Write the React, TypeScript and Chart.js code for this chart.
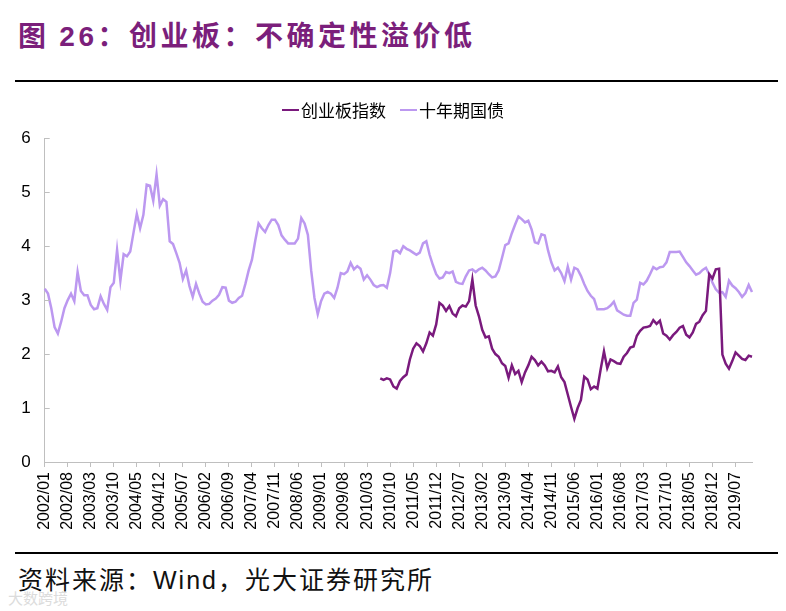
import React, { useEffect, useRef } from "react";
import { Chart, registerables } from "chart.js";

Chart.register(...registerables);

// ---- data (monthly, 2002/01 – 2019/12) ----
const startYear = 2002;
const labelStep = 7;

const bondYield: number[] = [
  3.21, 3.12, 2.85, 2.50, 2.38, 2.60, 2.85, 3.00, 3.12, 2.98, 3.52, 3.17,
  3.09, 3.09, 2.91, 2.83, 2.85, 3.07, 2.93, 2.82, 3.24, 3.32, 3.93, 3.36,
  3.85, 3.81, 3.90, 4.25, 4.60, 4.33, 4.58, 5.14, 5.12, 4.84, 5.33, 4.75,
  4.87, 4.82, 4.09, 4.04, 3.87, 3.69, 3.39, 3.55, 3.26, 3.06, 3.30, 3.12,
  2.97, 2.92, 2.93, 2.99, 3.03, 3.10, 3.24, 3.23, 2.99, 2.95, 2.97, 3.04,
  3.08, 3.30, 3.55, 3.75, 4.10, 4.42, 4.33, 4.26, 4.39, 4.49, 4.49, 4.39,
  4.20, 4.12, 4.05, 4.05,
  4.05, 4.14, 4.52, 4.42, 4.21, 3.55, 3.04, 2.74, 2.98, 3.12, 3.15, 3.12,
  3.04, 3.23, 3.50, 3.48, 3.53, 3.69, 3.57, 3.63, 3.58, 3.38, 3.46, 3.38,
  3.28, 3.24, 3.27, 3.28, 3.23, 3.50, 3.90, 3.92, 3.87, 4.00, 3.95, 3.92,
  3.88, 3.84, 3.88, 4.05, 4.09, 3.84, 3.65, 3.48, 3.40, 3.42, 3.52, 3.50,
  3.53, 3.34, 3.31, 3.30, 3.44, 3.55, 3.57, 3.52, 3.57, 3.60, 3.55, 3.48,
  3.42, 3.44, 3.55,
  3.78, 4.02, 4.05, 4.24, 4.40, 4.55, 4.50, 4.44, 4.47, 4.31,
  4.07, 4.05, 4.22, 4.20, 3.92, 3.70, 3.55, 3.60, 3.50, 3.35,
  3.62, 3.38, 3.60, 3.57, 3.45, 3.30, 3.17, 3.08, 3.02, 2.83,
  2.83, 2.83, 2.85, 2.90, 2.97, 2.81, 2.77, 2.73, 2.71, 2.71,
  2.95, 3.01, 3.32, 3.29, 3.36, 3.48, 3.61, 3.57, 3.61, 3.62,
  3.70, 3.89, 3.89, 3.89, 3.90, 3.80, 3.70, 3.63, 3.55, 3.47,
  3.50, 3.56, 3.60, 3.48, 3.32, 3.20, 3.14, 3.15, 3.06, 3.36,
  3.27, 3.22, 3.15, 3.06, 3.13, 3.28, 3.15,
];

// 创业板指数 series begins at month index 102
const gemStartIndex = 102;
const gemValues: number[] = [
  1.55, 1.52, 1.55, 1.53, 1.40, 1.36, 1.50, 1.57, 1.62, 1.90,
  2.10, 2.20, 2.15, 2.05, 2.20, 2.40, 2.34, 2.55, 2.95, 2.90,
  2.80, 2.89, 2.75, 2.70, 2.85, 2.90, 2.88, 2.98, 3.38, 2.90,
  2.70, 2.45, 2.31, 2.33, 2.10, 2.00, 1.95,
  1.83, 1.78, 1.56, 1.79, 1.63, 1.69, 1.48, 1.66, 1.79, 1.95,
  1.89, 1.79, 1.86, 1.79, 1.68, 1.69, 1.66, 1.77, 1.57, 1.48,
  1.25, 1.02, 0.80, 1.00, 1.15, 1.58, 1.53, 1.35, 1.40, 1.36,
  1.72, 2.05, 1.74, 1.90, 1.87, 1.83, 1.82, 1.95, 2.02, 2.12,
  2.14, 2.34, 2.43, 2.49, 2.50, 2.52, 2.63, 2.56, 2.62, 2.38,
  2.34, 2.27, 2.35, 2.41, 2.49, 2.52, 2.36, 2.31, 2.40, 2.56,
  2.60, 2.72, 2.80, 3.48, 3.40, 3.57, 3.58, 1.99, 1.82, 1.73,
  1.87, 2.03, 1.97, 1.91, 1.89, 1.97, 1.95,
];

const yTicks = [0, 1, 2, 3, 4, 5, 6];

const seriesNames = ["创业板指数", "十年期国债"];
const colors = ["#7A1A7D", "#BC98F0"];

const categories: string[] = bondYield.map((_, i) => {
  const y = startYear + Math.floor(i / 12);
  const m = (i % 12) + 1;
  return `${y}/${m < 10 ? "0" + m : m}`;
});

const gemSeries: (number | null)[] = categories.map((_, i) =>
  i >= gemStartIndex ? gemValues[i - gemStartIndex] ?? null : null
);

const innerTicks = {
  id: "innerTicks",
  afterDraw(chart: any) {
    const { ctx, chartArea, scales } = chart;
    ctx.save();
    ctx.strokeStyle = "#bfbfbf";
    ctx.lineWidth = 1;
    yTicks.forEach((v) => {
      const py = Math.round(scales.y.getPixelForValue(v)) + 0.5;
      ctx.beginPath();
      ctx.moveTo(chartArea.left, py);
      ctx.lineTo(chartArea.left + 5, py);
      ctx.stroke();
    });
    ctx.restore();
  },
};

function ChartCanvas() {
  const ref = useRef<HTMLCanvasElement | null>(null);
  useEffect(() => {
    if (!ref.current) return;
    const chart = new Chart(ref.current, {
      type: "line",
      data: {
        labels: categories,
        datasets: [
          {
            label: seriesNames[0],
            data: gemSeries,
            borderColor: colors[0],
            backgroundColor: colors[0],
            borderWidth: 2.5,
            pointRadius: 0,
            tension: 0,
            spanGaps: false,
          },
          {
            label: seriesNames[1],
            data: bondYield,
            borderColor: colors[1],
            backgroundColor: colors[1],
            borderWidth: 2.5,
            pointRadius: 0,
            tension: 0,
          },
        ],
      },
      options: {
        animation: false,
        responsive: false,
        maintainAspectRatio: false,
        layout: { padding: { left: 0, right: 34, top: 0, bottom: 0 } },
        plugins: { legend: { display: false }, tooltip: { enabled: false } },
        scales: {
          x: {
            type: "category",
            offset: false,
            afterFit: (s: any) => {
              s.height = 88;
            },
            grid: {
              display: true,
              drawOnChartArea: false,
              drawTicks: true,
              tickLength: 5,
              color: (c: any) => (c.index % labelStep === 0 ? "#bfbfbf" : "rgba(0,0,0,0)"),
            },
            border: { display: true, color: "#bfbfbf", width: 1 },
            ticks: {
              autoSkip: false,
              maxRotation: 90,
              minRotation: 90,
              padding: 5,
              color: "#000",
              font: { family: '"Liberation Sans", Arial, sans-serif', size: 16 },
              callback: (_v: any, i: number) => (i % labelStep === 0 ? categories[i] : ""),
            },
          },
          y: {
            min: 0,
            max: 6,
            afterFit: (s: any) => {
              s.width = 44.7;
            },
            grid: { display: false, drawTicks: false },
            border: { display: true, color: "#bfbfbf", width: 1 },
            ticks: {
              stepSize: 1,
              padding: 14,
              color: "#000",
              font: { family: '"Liberation Sans", Arial, sans-serif', size: 17 },
            },
          },
        },
      },
      plugins: [innerTicks],
    });
    return () => chart.destroy();
  }, []);
  return <canvas ref={ref} width={786} height={436} style={{ width: 786, height: 436, display: "block" }} />;
}

export default function App() {
  const cjk = '"Noto Sans CJK SC", "Noto Sans", sans-serif';
  return (
    <div
      style={{
        position: "absolute",
        left: 0,
        top: 0,
        width: 786,
        height: 611,
        background: "#fff",
        overflow: "hidden",
      }}
    >
      <div
        style={{
          position: "absolute",
          left: 18,
          top: 15,
          fontSize: 28,
          lineHeight: "38px",
          fontWeight: 700,
          color: "#7B1F7B",
          fontFamily: cjk,
          letterSpacing: 3.5,
          whiteSpace: "nowrap",
        }}
      >
        图 <span style={{ fontFamily: '"Liberation Sans", Arial, sans-serif' }}>26</span>：创业板：不确定性溢价低
      </div>
      <div style={{ position: "absolute", left: 15, top: 80, width: 763, height: 1.5, background: "#000" }} />
      <div style={{ position: "absolute", left: 0, top: 114 }}>
        <ChartCanvas />
      </div>
      <div
        style={{
          position: "absolute",
          left: 0,
          top: 92,
          width: 786,
          textAlign: "center",
          fontFamily: cjk,
          fontSize: 17,
          lineHeight: "24px",
          color: "#000",
          whiteSpace: "nowrap",
        }}
      >
        {seriesNames.map((n, i) => (
          <span key={n} style={{ marginLeft: i === 0 ? 0 : 14, display: "inline-flex", alignItems: "center" }}>
            <span style={{ display: "inline-block", width: 17, height: 2.5, background: colors[i], marginRight: 2 }} />
            {n}
          </span>
        ))}
      </div>
      <div style={{ position: "absolute", left: 15, top: 552, width: 763, height: 1.5, background: "#000" }} />
      <div
        style={{
          position: "absolute",
          left: 18,
          top: 561,
          fontSize: 25,
          lineHeight: "34px",
          color: "#111",
          fontFamily: cjk,
          letterSpacing: 2,
          whiteSpace: "nowrap",
        }}
      >
        资料来源：<span style={{ fontFamily: '"Liberation Sans", Arial, sans-serif' }}>Wind</span>，光大证券研究所
      </div>
      <div
        style={{
          position: "absolute",
          left: 8,
          top: 588,
          fontSize: 15,
          lineHeight: "20px",
          color: "#dcdcdc",
          fontFamily: cjk,
          whiteSpace: "nowrap",
        }}
      >
        大数跨境
      </div>
    </div>
  );
}
